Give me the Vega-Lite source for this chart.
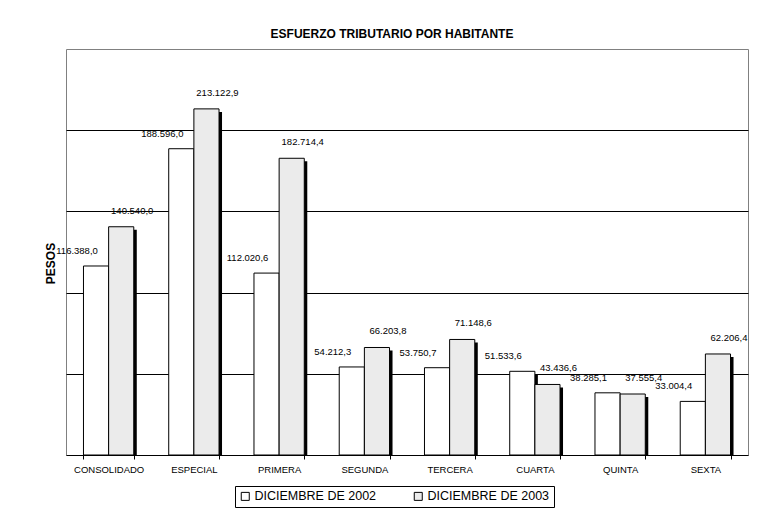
{
  "$schema": "https://vega.github.io/schema/vega-lite/v6.json",
  "width": 682,
  "height": 406,
  "autosize": {"type": "none"},
  "padding": {"left": 66, "top": 49, "right": 33, "bottom": 70},
  "background": "white",
  "config": {
    "view": {"stroke": "#808080", "strokeWidth": 1},
    "locale": {"number": {"decimal": ",", "thousands": ".", "grouping": [3], "currency": ["$", ""]}},
    "font": "Liberation Sans"
  },
  "title": {
    "text": "ESFUERZO TRIBUTARIO POR HABITANTE",
    "font": "Liberation Sans",
    "fontSize": 12,
    "fontWeight": "bold",
    "color": "black",
    "offset": 8,
    "dx": -15,
    "anchor": "middle"
  },
  "data": {
    "values": [
      {"region": "CONSOLIDADO", "periodo": "DICIEMBRE DE 2002", "pesos": 116388.0},
      {"region": "CONSOLIDADO", "periodo": "DICIEMBRE DE 2003", "pesos": 140540.0},
      {"region": "ESPECIAL", "periodo": "DICIEMBRE DE 2002", "pesos": 188596.0},
      {"region": "ESPECIAL", "periodo": "DICIEMBRE DE 2003", "pesos": 213122.9},
      {"region": "PRIMERA", "periodo": "DICIEMBRE DE 2002", "pesos": 112020.6},
      {"region": "PRIMERA", "periodo": "DICIEMBRE DE 2003", "pesos": 182714.4},
      {"region": "SEGUNDA", "periodo": "DICIEMBRE DE 2002", "pesos": 54212.3},
      {"region": "SEGUNDA", "periodo": "DICIEMBRE DE 2003", "pesos": 66203.8},
      {"region": "TERCERA", "periodo": "DICIEMBRE DE 2002", "pesos": 53750.7},
      {"region": "TERCERA", "periodo": "DICIEMBRE DE 2003", "pesos": 71148.6},
      {"region": "CUARTA", "periodo": "DICIEMBRE DE 2002", "pesos": 51533.6},
      {"region": "CUARTA", "periodo": "DICIEMBRE DE 2003", "pesos": 43436.6},
      {"region": "QUINTA", "periodo": "DICIEMBRE DE 2002", "pesos": 38285.1},
      {"region": "QUINTA", "periodo": "DICIEMBRE DE 2003", "pesos": 37555.4},
      {"region": "SEXTA", "periodo": "DICIEMBRE DE 2002", "pesos": 33004.4},
      {"region": "SEXTA", "periodo": "DICIEMBRE DE 2003", "pesos": 62206.4}
    ]
  },
  "encoding": {
    "x": {
      "field": "region",
      "type": "nominal",
      "sort": null,
      "title": null,
      "scale": {"paddingInner": 0.41, "paddingOuter": 0.205},
      "axis": {
        "labelAngle": 0,
        "grid": false,
        "domainColor": "black",
        "tickColor": "black",
        "tickSize": 4,
        "tickBand": "extent",
        "labelFont": "Liberation Sans",
        "labelFontSize": 9.5,
        "labelColor": "black",
        "labelPadding": 5
      }
    },
    "xOffset": {
      "field": "periodo",
      "type": "nominal",
      "sort": null,
      "scale": {"domain": ["DICIEMBRE DE 2002", "DICIEMBRE DE 2003"]}
    },
    "y": {
      "field": "pesos",
      "type": "quantitative",
      "title": "PESOS",
      "scale": {"domain": [0, 250000], "nice": false},
      "axis": {
        "domain": false,
        "ticks": false,
        "labels": false,
        "grid": true,
        "gridColor": "black",
        "gridOpacity": 1,
        "gridWidth": 1,
        "values": [50000, 100000, 150000, 200000],
        "titleFont": "Liberation Sans",
        "titleFontSize": 12,
        "titleFontWeight": "bold",
        "titleColor": "black",
        "titlePadding": 9,
        "titleY": 214
      }
    }
  },
  "resolve": {"scale": {"xOffset": "independent"}},
  "layer": [
    {
      "mark": {"type": "bar", "fill": "black", "yOffset": 3, "clip": true},
      "encoding": {
        "xOffset": {
          "field": "periodo",
          "type": "nominal",
          "sort": null,
          "scale": {"domain": ["DICIEMBRE DE 2002", "DICIEMBRE DE 2003"], "range": [3, 53.3]}
        }
      }
    },
    {
      "mark": {"type": "bar", "stroke": "black", "strokeWidth": 1},
      "encoding": {
        "fill": {
          "field": "periodo",
          "type": "nominal",
          "sort": null,
          "scale": {"range": ["white", "#ebebeb"]},
          "legend": {
            "title": null,
            "orient": "none",
            "legendX": 169,
            "legendY": 437,
            "direction": "horizontal",
            "strokeColor": "black",
            "fillColor": "white",
            "padding": 4,
            "symbolType": "square",
            "symbolSize": 64,
            "symbolStrokeColor": "black",
            "symbolStrokeWidth": 1,
            "labelFont": "Liberation Sans",
            "labelFontSize": 12.5,
            "labelColor": "black",
            "labelOffset": 3,
            "columnPadding": 35,
            "labelLimit": 300
          }
        }
      }
    },
    {
      "transform": [{"filter": "datum.periodo == 'DICIEMBRE DE 2002'"}],
      "mark": {"type": "text", "dx": -19, "dy": -15, "baseline": "middle", "font": "Liberation Sans", "fontSize": 9.5, "color": "black"},
      "encoding": {"text": {"field": "pesos", "type": "quantitative", "format": ",.1f"}}
    },
    {
      "transform": [{"filter": "datum.periodo == 'DICIEMBRE DE 2003'"}],
      "mark": {"type": "text", "dx": 11, "dy": -16, "baseline": "middle", "font": "Liberation Sans", "fontSize": 9.5, "color": "black"},
      "encoding": {"text": {"field": "pesos", "type": "quantitative", "format": ",.1f"}}
    }
  ]
}
